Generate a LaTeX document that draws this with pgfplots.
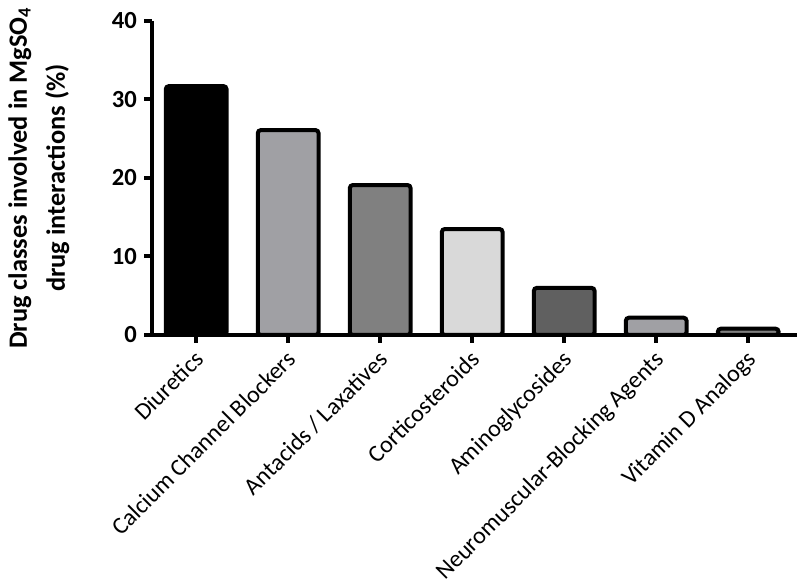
\documentclass[border=0pt]{standalone}
\usepackage{pgfplots}
\pgfplotsset{compat=1.18}
\usepackage{fontspec}
\setmainfont{Carlito}
\definecolor{g1}{HTML}{A0A0A4}
\definecolor{g2}{HTML}{808080}
\definecolor{g3}{HTML}{D9D9D9}
\definecolor{g4}{HTML}{606060}
\begin{document}
\begin{tikzpicture}
\path[use as bounding box] (0,0) rectangle (400pt,293.5pt);
\begin{axis}[
  at={(76pt,126pt)}, anchor=south west,
  scale only axis, width=322.5pt, height=157pt,
  xmin=-0.48, xmax=6.53, ymin=0, ymax=40,
  axis x line*=bottom, axis y line*=left,
  axis line style={line width=2pt,-},
  ytick={0,10,20,30,40},
  xtick={0,1,2,3,4,5,6},
  xticklabels={Diuretics,Calcium Channel Blockers,Antacids / Laxatives,Corticosteroids,Aminoglycosides,Neuromuscular-Blocking Agents,Vitamin D Analogs},
  x tick label style={rotate=45, anchor=north east, font=\fontsize{12}{14}\selectfont, inner sep=1pt, xshift=-2pt},
  y tick label style={font=\bfseries\fontsize{12.3}{14}\selectfont},
  /pgf/number format/assume math mode=true,
  tick align=outside, major tick length=4pt,
  tick style={line width=2pt, black},
  ylabel={Drug classes involved in MgSO\textsubscript{4}\\drug interactions (\%)},
  ylabel style={font=\bfseries\fontsize{13.2}{19}\selectfont, align=center, at={(ticklabel cs:0.5)}, anchor=south, yshift=14.5pt},
  clip=false,
]
\addplot[ybar, bar width=0.66, line width=2pt, draw=black, fill=black, rounded corners=1.5pt] coordinates {(0,31.7)};
\addplot[ybar, bar width=0.66, line width=2pt, draw=black, fill=g1, rounded corners=1.5pt] coordinates {(1,26.1)};
\addplot[ybar, bar width=0.66, line width=2pt, draw=black, fill=g2, rounded corners=1.5pt] coordinates {(2,19.1)};
\addplot[ybar, bar width=0.66, line width=2pt, draw=black, fill=g3, rounded corners=1.5pt] coordinates {(3,13.5)};
\addplot[ybar, bar width=0.66, line width=2pt, draw=black, fill=g4, rounded corners=1.5pt] coordinates {(4,6.0)};
\addplot[ybar, bar width=0.66, line width=2pt, draw=black, fill=g1, rounded corners=1.5pt] coordinates {(5,2.2)};
\addplot[ybar, bar width=0.66, line width=2pt, draw=black, fill=g2, rounded corners=1.5pt] coordinates {(6,0.8)};
\end{axis}
\end{tikzpicture}
\end{document}
